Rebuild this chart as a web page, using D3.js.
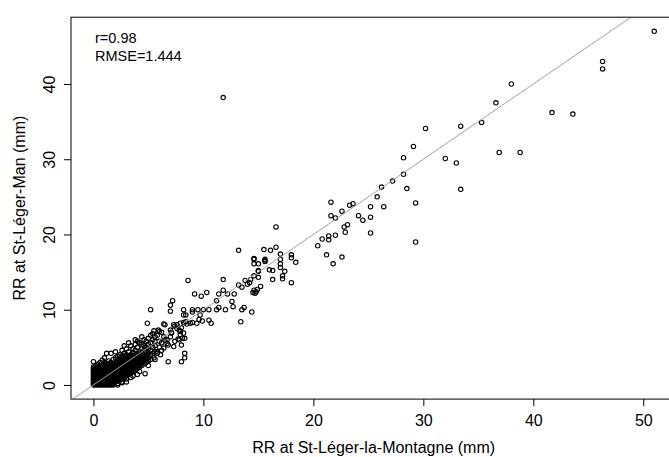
<!DOCTYPE html>
<html><head><meta charset="utf-8">
<script src="https://cdn.jsdelivr.net/npm/d3@7"></script>
<style>html,body{margin:0;padding:0;background:#fff;overflow:hidden}</style>
</head><body><svg id="c" width="669" height="457"></svg>
<script>
const xTicks = [0, 10, 20, 30, 40, 50];
const yTicks = [0, 10, 20, 30, 40];
const xTitle = "RR at St-Léger-la-Montagne (mm)";
const yTitle = "RR at St-Léger-Man (mm)";
const statLines = ["r=0.98", "RMSE=1.444"];

// [RR St-Léger-la-Montagne, RR St-Léger-Man] pairs (mm)
const obsHigh = [
 [51.0,47.0],[46.3,43.0],[46.3,42.0],[38.0,40.0],[41.7,36.2],[43.6,36.0],[36.6,37.5],[35.3,34.9],
 [33.4,34.4],[30.2,34.1],[29.1,31.7],[28.2,30.2],[32.0,30.1],[33.0,29.5],[36.9,30.9],[38.8,30.9],
 [28.2,28.0],[28.5,26.1],[33.4,26.0],[27.2,27.1],[26.2,26.3],[25.8,25.0],[26.4,23.7],[29.3,24.2],
 [25.2,23.7],[25.2,22.3],[25.2,20.2],[29.3,19.0],[21.6,24.3],[23.3,23.9],[23.6,24.1],[22.6,23.1],
 [21.6,22.5],[22.0,22.2],[24.1,22.5],[24.5,21.9],[23.1,21.3],[22.8,21.0],[22.9,20.3],[22.0,19.9],
 [21.4,19.8],[21.4,19.3],[20.8,19.4],[20.4,18.5],[21.2,17.3],[22.6,17.0],[21.8,16.1],[11.8,38.2]
];
const obsMid = [
 [16.6,21.0],[15.5,18.0],[16.1,17.9],[16.6,18.3],[14.6,16.8],[15.6,16.7],[17.0,17.4],[18.0,17.3],
 [18.0,16.9],[13.2,17.9],[15.6,16.5],[17.0,16.7],[17.0,16.1],[17.0,15.6],[16.3,15.2],[17.4,15.1],
 [18.4,16.3],[18.0,13.6],[17.2,14.5],[17.2,14.1],[16.3,14.0],[15.0,15.1],[14.3,14.0],
 [14.6,16.7],[14.6,16.1],[15.0,16.1],[15.6,16.4],[16.0,15.3],[15.0,15.2],[15.0,14.3],[14.6,14.5],
 [8.6,13.9],[11.8,14.0],[13.8,13.9],[14.2,13.6],[13.2,13.3],[13.5,13.0],[14.0,13.4],[14.6,12.6],
 [14.8,12.4],[14.9,12.7],[14.7,12.2],[14.5,12.3],[15.2,13.1],[11.8,12.6],[11.4,12.1],[12.2,12.1],
 [12.8,12.1],[9.2,12.1],[9.8,11.8],[10.3,12.3],[11.2,11.2],[7.2,11.2],[7.0,10.6],[7.0,9.8],
 [12.6,11.1],[12.7,10.4],[11.4,10.3],[12.0,10.0],[11.2,10.0],[10.5,10.0],[10.0,10.0],[9.5,10.0],
 [9.0,10.0],[8.2,10.0],[9.0,9.7],[8.4,9.3],[9.7,9.3],[9.6,8.7],[10.5,8.6],[10.7,8.2],[13.5,10.0],
 [13.7,10.3],[14.4,9.7],[13.4,8.4],[5.2,10.0],[6.4,8.1],[7.6,8.0],[7.9,8.2],[8.2,8.3],[8.5,8.1],
 [8.8,8.2],[9.0,8.3],[9.4,8.2],[4.9,8.2],[8.4,8.4],[8.2,9.3],[9.9,8.5]
];
const obsLow = [
 [5.5,7.2],[6.0,7.1],[7.0,7.3],[7.1,7.0],[7.4,7.8],[7.6,7.5],[7.8,7.3],[8.0,7.6],[7.9,6.7],
 [8.2,6.9],[8.3,6.2],[7.7,6.1],[7.4,5.8],[8.0,5.3],[7.3,5.1],[6.8,5.3],[6.4,4.9],[6.0,5.8],
 [6.7,6.0],[5.8,4.4],[6.1,4.0],[5.2,4.6],[4.9,4.0],[6.8,3.1],[8.0,3.1],[8.3,3.6],[8.3,4.2],
 [4.7,1.5],[5.5,3.6],[5.9,7.3],[6.5,8.0],[8.1,6.2],[7.8,6.0],[7.3,8.0],[7.9,7.1],
 [4.6,6.0],[5.0,6.2],[5.2,6.6],[5.6,5.8],[5.8,6.6],[6.0,5.0],[6.2,5.6],[6.4,6.4],[6.5,6.0],
 [6.7,5.5],[7.0,6.4],[7.1,6.9],[6.2,7.0],[5.4,6.8],[4.4,6.4],[3.8,6.0],[3.2,5.6],[2.8,5.2],
 [4.0,5.8],[5.8,4.2],[6.2,4.6],[5.6,3.4],[5.0,2.6],[4.2,1.8],[3.6,1.2],[3.0,0.4],[2.6,0.3],
 [2.2,0.0],[0.0,3.1],[0.8,3.3],[1.2,4.2],[1.6,4.2]
];
const obsCore = [
 [0,0],[0,0.2],[0,0.4],[0,0.6],[0,0.8],[0,1.0],[0,1.2],[0,1.4],[0,1.6],[0,1.8],[0,2.0],[0,2.2],[0,2.4],
 [0.2,0],[0.2,0.2],[0.2,0.4],[0.2,0.6],[0.2,1.0],[0.2,1.4],[0.2,1.8],[0.2,2.2],[0.2,2.6],
 [0.4,0],[0.4,0.2],[0.4,0.4],[0.4,0.8],[0.4,1.2],[0.4,1.6],[0.4,2.0],[0.4,2.4],[0.4,2.8],
 [0.6,0],[0.6,0.2],[0.6,0.6],[0.6,1.0],[0.6,1.4],[0.6,1.8],[0.6,2.2],[0.6,2.6],[0.6,3.0],
 [0.8,0],[0.8,0.4],[0.8,0.8],[0.8,1.2],[0.8,1.6],[0.8,2.0],[0.8,2.4],
 [1.0,0],[1.0,0.2],[1.0,0.6],[1.0,1.0],[1.0,1.4],[1.0,1.8],[1.0,2.2],[1.0,2.6],[1.0,3.0],[1.0,3.6],
 [1.2,0],[1.2,0.4],[1.2,0.8],[1.2,1.2],[1.2,1.6],[1.2,2.0],[1.2,2.4],[1.2,2.8],
 [1.4,0],[1.4,0.2],[1.4,0.6],[1.4,1.0],[1.4,1.4],[1.4,1.8],[1.4,2.2],[1.4,2.6],[1.4,3.2],
 [1.6,0],[1.6,0.4],[1.6,0.8],[1.6,1.2],[1.6,1.6],[1.6,2.0],[1.6,2.4],[1.6,3.0],
 [1.8,0],[1.8,0.2],[1.8,0.6],[1.8,1.0],[1.8,1.4],[1.8,1.8],[1.8,2.2],[1.8,2.8],[1.8,3.4],
 [2.0,0.4],[2.0,0.8],[2.0,1.2],[2.0,1.6],[2.0,2.0],[2.0,2.4],[2.0,3.0],[2.0,3.6],[2.0,4.4],
 [2.2,0.2],[2.2,0.6],[2.2,1.0],[2.2,1.4],[2.2,1.8],[2.2,2.2],[2.2,2.6],[2.2,3.2],[2.2,3.8],
 [2.4,0.6],[2.4,1.0],[2.4,1.4],[2.4,1.8],[2.4,2.2],[2.4,2.6],[2.4,3.0],[2.4,3.4],[2.4,4.0],
 [2.6,0.4],[2.6,0.8],[2.6,1.2],[2.6,1.6],[2.6,2.0],[2.6,2.4],[2.6,2.8],[2.6,3.2],[2.6,3.8],[2.6,4.6],
 [2.8,1.0],[2.8,1.4],[2.8,1.8],[2.8,2.2],[2.8,2.6],[2.8,3.0],[2.8,3.4],[2.8,4.2],
 [3.0,0.8],[3.0,1.2],[3.0,1.6],[3.0,2.0],[3.0,2.4],[3.0,2.8],[3.0,3.2],[3.0,3.6],[3.0,4.0],[3.0,4.8],
 [3.2,1.4],[3.2,1.8],[3.2,2.2],[3.2,2.6],[3.2,3.0],[3.2,3.4],[3.2,3.8],[3.2,4.4],
 [3.4,1.0],[3.4,1.6],[3.4,2.0],[3.4,2.4],[3.4,2.8],[3.4,3.2],[3.4,3.6],[3.4,4.0],[3.4,5.2],
 [3.6,1.8],[3.6,2.2],[3.6,2.6],[3.6,3.0],[3.6,3.4],[3.6,3.8],[3.6,4.2],[3.6,4.8],
 [3.8,2.0],[3.8,2.4],[3.8,2.8],[3.8,3.2],[3.8,3.6],[3.8,4.0],[3.8,4.6],[3.8,5.4],
 [4.0,1.4],[4.0,2.2],[4.0,2.6],[4.0,3.0],[4.0,3.4],[4.0,3.8],[4.0,4.2],[4.0,5.0],
 [4.2,2.4],[4.2,2.8],[4.2,3.2],[4.2,3.6],[4.2,4.0],[4.2,4.4],[4.2,5.6],
 [4.4,2.6],[4.4,3.0],[4.4,3.4],[4.4,3.8],[4.4,4.2],[4.4,4.8],[4.4,5.4],
 [4.6,2.8],[4.6,3.2],[4.6,3.6],[4.6,4.0],[4.6,4.6],[4.6,5.2],
 [4.8,3.0],[4.8,3.4],[4.8,3.8],[4.8,4.4],[4.8,5.0],[4.8,5.8],
 [5.0,3.2],[5.0,3.6],[5.0,4.2],[5.0,4.8],[5.0,5.4],
 [5.2,3.4],[5.2,4.0],[5.2,5.6],[5.4,4.2],[5.4,5.0],[5.4,6.0],[5.6,4.4],[5.6,5.2],[5.6,6.4]
];
const obsCore2 = [
 [0.1,0.1],[0.1,0.5],[0.1,0.9],[0.1,1.3],[0.1,1.7],[0.1,2.1],
 [0.3,0.1],[0.3,0.3],[0.3,0.7],[0.3,1.1],[0.3,1.5],[0.3,1.9],[0.3,2.3],
 [0.5,0.1],[0.5,0.5],[0.5,0.9],[0.5,1.3],[0.5,1.7],[0.5,2.1],[0.5,2.5],
 [0.7,0.1],[0.7,0.3],[0.7,0.7],[0.7,1.1],[0.7,1.5],[0.7,1.9],[0.7,2.3],
 [0.9,0.1],[0.9,0.5],[0.9,0.9],[0.9,1.3],[0.9,1.7],[0.9,2.1],[0.9,2.7],
 [1.1,0.1],[1.1,0.3],[1.1,0.7],[1.1,1.1],[1.1,1.5],[1.1,1.9],[1.1,2.3],[1.1,2.9],
 [1.3,0.1],[1.3,0.5],[1.3,0.9],[1.3,1.3],[1.3,1.7],[1.3,2.1],[1.3,2.5],
 [1.5,0.1],[1.5,0.3],[1.5,0.7],[1.5,1.1],[1.5,1.5],[1.5,1.9],[1.5,2.3],[1.5,2.9],
 [1.7,0.1],[1.7,0.5],[1.7,0.9],[1.7,1.3],[1.7,1.7],[1.7,2.1],[1.7,2.5],
 [1.9,0.3],[1.9,0.7],[1.9,1.1],[1.9,1.5],[1.9,1.9],[1.9,2.3],[1.9,2.7],
 [2.1,0.5],[2.1,0.9],[2.1,1.3],[2.1,1.7],[2.1,2.1],[2.1,2.5],[2.1,2.9],
 [2.3,0.7],[2.3,1.1],[2.3,1.5],[2.3,1.9],[2.3,2.3],[2.3,2.7],[2.3,3.3],
 [2.5,0.9],[2.5,1.3],[2.5,1.7],[2.5,2.1],[2.5,2.5],[2.5,2.9],[2.5,3.5],
 [2.7,1.1],[2.7,1.5],[2.7,1.9],[2.7,2.3],[2.7,2.7],[2.7,3.1],[2.7,3.7],
 [2.9,1.3],[2.9,1.7],[2.9,2.1],[2.9,2.5],[2.9,2.9],[2.9,3.3],[2.9,3.9],
 [3.1,1.5],[3.1,1.9],[3.1,2.3],[3.1,2.7],[3.1,3.1],[3.1,3.5],
 [3.3,1.7],[3.3,2.1],[3.3,2.5],[3.3,2.9],[3.3,3.3],[3.3,3.7],
 [3.5,1.9],[3.5,2.3],[3.5,2.7],[3.5,3.1],[3.5,3.5],[3.5,3.9],
 [3.7,2.3],[3.7,2.7],[3.7,3.1],[3.7,3.5],[3.9,2.5],[3.9,2.9],[3.9,3.3],[3.9,3.7],
 [4.1,2.7],[4.1,3.1],[4.1,3.5]
];

const allObs = obsCore.concat(obsCore2, obsLow, obsMid, obsHigh);
const pad = e => { const d = (e[1] - e[0]) * 0.04; return [e[0] - d, e[1] + d]; };

const L = 71, R = 676.7, T = 17.2, B = 399.1;
const x = d3.scaleLinear().domain(pad(d3.extent(allObs, d => d[0]))).range([L, R]);
const y = d3.scaleLinear().domain(pad(d3.extent(allObs, d => d[1]))).range([B, T]);

const svg = d3.select("#c");
const font = "'Liberation Sans', Arial, Helvetica, sans-serif";

svg.append("defs").append("clipPath").attr("id", "plot")
  .append("rect").attr("x", L).attr("y", T).attr("width", R - L).attr("height", B - T);

// points
svg.append("g").selectAll("circle").data(allObs).join("circle")
  .attr("cx", d => x(d[0])).attr("cy", d => y(d[1])).attr("r", 2.2)
  .attr("fill", "none").attr("stroke", "#000").attr("stroke-width", 1.1);

// 1:1 line
const xd = x.domain();
svg.append("line").attr("clip-path", "url(#plot)")
  .attr("x1", x(xd[0])).attr("y1", y(xd[0])).attr("x2", x(xd[1])).attr("y2", y(xd[1]))
  .attr("stroke", "#a0a0a0").attr("stroke-width", 1);

// box
svg.append("rect").attr("x", L).attr("y", T).attr("width", R - L).attr("height", B - T)
  .attr("fill", "none").attr("stroke", "#000").attr("stroke-width", 1);

// x axis
const xa = svg.append("g").attr("transform", `translate(0,${B})`)
  .call(d3.axisBottom(x).tickValues(xTicks).tickSize(7).tickPadding(9).tickFormat(d3.format("d")));
xa.select(".domain").remove();
xa.selectAll("text").attr("font-family", font).attr("font-size", 16).attr("fill", "#000");

// y axis
const ya = svg.append("g").attr("transform", `translate(${L},0)`)
  .call(d3.axisLeft(y).tickValues(yTicks).tickSize(7).tickFormat(d3.format("d")));
ya.select(".domain").remove();
ya.selectAll("text").attr("font-family", font).attr("font-size", 16).attr("fill", "#000")
  .attr("text-anchor", "middle").attr("dy", null).attr("x", null)
  .attr("transform", "translate(-16,0) rotate(-90)");

// titles
svg.append("text").attr("x", 373.7).attr("y", 453).attr("text-anchor", "middle")
  .attr("font-family", font).attr("font-size", 16).text(xTitle);
svg.append("text").attr("transform", `translate(25,${(T + B) / 2}) rotate(-90)`)
  .attr("text-anchor", "middle").attr("font-family", font).attr("font-size", 16).text(yTitle);

// stats
svg.append("g").selectAll("text").data(statLines).join("text")
  .attr("x", 95).attr("y", (d, i) => 43 + i * 17.5)
  .attr("font-family", font).attr("font-size", 14.5).text(d => d);
</script></body></html>
